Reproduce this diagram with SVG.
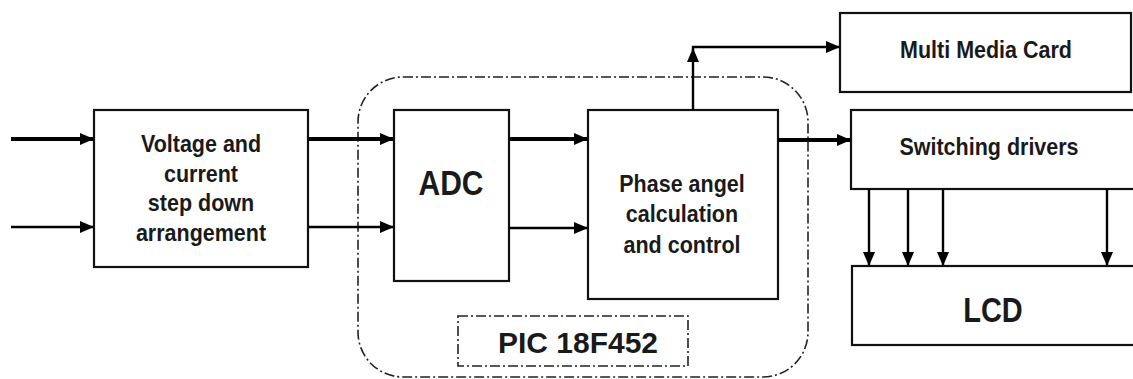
<svg xmlns="http://www.w3.org/2000/svg" width="1133" height="379" viewBox="0 0 1133 379">
<defs>
<style>
.box{fill:#fff;stroke:#111;stroke-width:2.2}
.dd{fill:none;stroke:#222;stroke-width:1.6;stroke-dasharray:10 3 2 3}
.t{font-family:"Liberation Sans",Arial,sans-serif;font-weight:bold;fill:#1a1a1a;text-anchor:middle}
.s{font-size:21.5px}
.w{stroke:#000;fill:none}
.thick{stroke-width:4}
.thin{stroke-width:2.4}
</style>
<marker id="ah" markerUnits="userSpaceOnUse" markerWidth="14" markerHeight="12" refX="13" refY="6" orient="auto">
<path d="M0,0 L14,6 L0,12 Z" fill="#000"/>
</marker>
</defs>
<g id="pic-boundary">
<rect class="dd" x="358" y="77" width="450" height="300" rx="45" ry="45"/>
</g>
<g id="voltage">
<rect class="box" x="94" y="110" width="214" height="157"/>
<text class="t s" transform="translate(201,152) scale(1,1.1)">Voltage and</text>
<text class="t s" transform="translate(201,182) scale(1,1.1)">current</text>
<text class="t s" transform="translate(201,211) scale(1,1.1)">step down</text>
<text class="t s" transform="translate(201,241) scale(1,1.1)">arrangement</text>
</g>
<g id="adc">
<rect class="box" x="394" y="110" width="115" height="171"/>
<text class="t" font-size="30" transform="translate(451,195) scale(1,1.17)">ADC</text>
</g>
<g id="phase">
<rect class="box" x="588" y="110" width="190" height="189"/>
<text class="t s" transform="translate(682,192) scale(1,1.1)">Phase angel</text>
<text class="t s" transform="translate(682,222) scale(1,1.1)">calculation</text>
<text class="t s" transform="translate(682,253) scale(1,1.1)">and control</text>
</g>
<g id="pic-label">
<rect class="dd" x="458" y="316" width="230" height="50"/>
<text class="t" font-size="30" x="578" y="353">PIC 18F452</text>
</g>
<g id="mmc">
<rect class="box" x="840" y="13" width="291" height="79"/>
<text class="t s" transform="translate(986,58) scale(1,1.1)">Multi Media Card</text>
</g>
<g id="switching">
<rect class="box" x="851" y="110" width="290" height="79"/>
<text class="t s" transform="translate(989,155) scale(1,1.1)">Switching drivers</text>
</g>
<g id="lcd">
<rect class="box" x="852" y="266" width="290" height="79"/>
<text class="t" font-size="29" transform="translate(993,322) scale(1,1.2)">LCD</text>
</g>
<g id="connectors">
<line class="w thick" x1="11" y1="139" x2="93" y2="139" marker-end="url(#ah)"/>
<line class="w thin" x1="11" y1="227" x2="93" y2="227" marker-end="url(#ah)"/>
<line class="w thick" x1="308" y1="139" x2="393" y2="139" marker-end="url(#ah)"/>
<line class="w thin" x1="308" y1="227" x2="393" y2="227" marker-end="url(#ah)"/>
<line class="w thick" x1="509" y1="139" x2="587" y2="139" marker-end="url(#ah)"/>
<line class="w thin" x1="509" y1="228" x2="587" y2="228" marker-end="url(#ah)"/>
<line class="w thick" x1="778" y1="140" x2="850" y2="140" marker-end="url(#ah)"/>
<line class="w thin" x1="693" y1="110" x2="693" y2="49" marker-end="url(#ah)"/>
<polyline class="w thin" points="693,50 693,47 839,47" marker-end="url(#ah)"/>
<line class="w thin" x1="869" y1="189" x2="869" y2="265" marker-end="url(#ah)"/>
<line class="w thin" x1="908" y1="189" x2="908" y2="265" marker-end="url(#ah)"/>
<line class="w thin" x1="943" y1="189" x2="943" y2="265" marker-end="url(#ah)"/>
<line class="w thin" x1="1107" y1="189" x2="1107" y2="265" marker-end="url(#ah)"/>
</g>
</svg>
